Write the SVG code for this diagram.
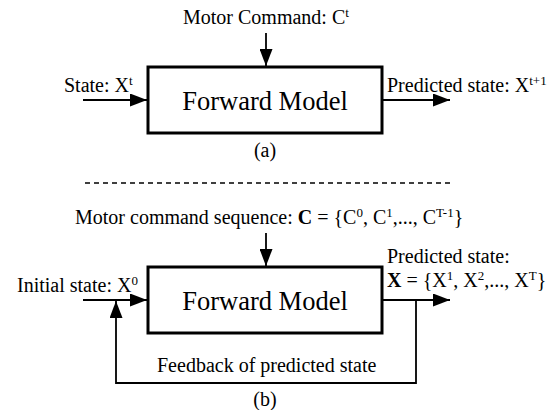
<svg xmlns="http://www.w3.org/2000/svg" width="558" height="410" viewBox="0 0 558 410">
<style>
text{font-family:"Liberation Serif","Times New Roman",serif;fill:#000}
.l{font-size:20px}
.big{font-size:26.5px}
.sup{font-size:13px}
.box{fill:#fff;stroke:#000;stroke-width:3}
.ln{fill:none;stroke:#000;stroke-width:1.8}
</style>
<defs>
<marker id="ah" markerWidth="17" markerHeight="13" refX="17" refY="6.5" orient="auto" markerUnits="userSpaceOnUse">
<path d="M0,0 L17,6.5 L0,13 Z" fill="#000"/>
</marker>
</defs>
<rect width="558" height="410" fill="#fff"/>
<g id="connectors">
<line class="ln" x1="266" y1="33" x2="266" y2="66" marker-end="url(#ah)"/>
<line class="ln" x1="83" y1="100" x2="147" y2="100" marker-end="url(#ah)"/>
<line class="ln" x1="383" y1="100" x2="450" y2="100" marker-end="url(#ah)"/>
<line x1="85" y1="183" x2="450" y2="183" stroke="#000" stroke-width="1.3" stroke-dasharray="5,4"/>
<line class="ln" x1="266" y1="233" x2="266" y2="266" marker-end="url(#ah)"/>
<line class="ln" x1="83" y1="300" x2="147" y2="300" marker-end="url(#ah)"/>
<line class="ln" x1="383" y1="300" x2="450" y2="300" marker-end="url(#ah)"/>
<polyline class="ln" points="416,300 416,383 116,383 116,301" marker-end="url(#ah)"/>
</g>
<g id="node-a">
<rect class="box" x="148" y="67" width="234" height="66"/>
<text class="big" x="265" y="110" text-anchor="middle">Forward Model</text>
</g>
<g id="node-b">
<rect class="box" x="148" y="267" width="234" height="66"/>
<text class="big" x="265" y="310" text-anchor="middle">Forward Model</text>
</g>
<g id="labels">
<text class="l" x="183" y="24">Motor Command: C<tspan class="sup" dy="-7">t</tspan></text>
<text class="l" x="64" y="92">State: X<tspan class="sup" dy="-7">t</tspan></text>
<text class="l" x="387" y="92">Predicted state: X<tspan class="sup" dy="-7">t+1</tspan></text>
<text class="l" x="265" y="157" text-anchor="middle">(a)</text>
<text class="l" x="75" y="224">Motor command sequence: <tspan font-weight="bold">C</tspan> = {C<tspan class="sup" dy="-7">0</tspan><tspan dy="7">, C</tspan><tspan class="sup" dy="-7">1</tspan><tspan dy="7">,..., C</tspan><tspan class="sup" dy="-7">T-1</tspan><tspan dy="7">}</tspan></text>
<text class="l" x="17" y="292">Initial state: X<tspan class="sup" dy="-7">0</tspan></text>
<text class="l" x="387" y="263">Predicted state:</text>
<text class="l" x="387" y="287"><tspan font-weight="bold">X</tspan> = {X<tspan class="sup" dy="-7">1</tspan><tspan dy="7">, X</tspan><tspan class="sup" dy="-7">2</tspan><tspan dy="7">,..., X</tspan><tspan class="sup" dy="-7">T</tspan><tspan dy="7">}</tspan></text>
<text class="l" x="157" y="372">Feedback of predicted state</text>
<text class="l" x="265" y="406" text-anchor="middle">(b)</text>
</g>
</svg>
